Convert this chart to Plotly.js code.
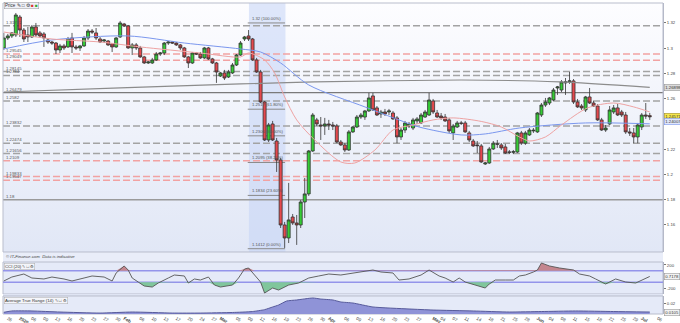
<!DOCTYPE html>
<html><head><meta charset="utf-8">
<script src="https://cdn.plot.ly/plotly-3.0.1.min.js"></script>
<style>html,body{margin:0;padding:0;background:#fff;}#chart{width:680px;height:323px;}</style>
</head><body><div id="chart"></div>
<script>
// ---------- DATA (GBP/USD daily) ----------
const openP = [1.3002,1.3081,1.3097,1.3105,1.3247,1.3144,1.3105,1.3089,1.3168,1.3121,1.3113,1.3065,1.3049,1.3041,1.2986,1.3018,1.3010,1.3081,1.3010,1.3002,1.3018,1.3081,1.3136,1.3121,1.3073,1.3057,1.3057,1.3034,1.3010,1.3089,1.3192,1.3176,1.3002,1.3026,1.3002,1.2931,1.2883,1.2883,1.2907,1.2954,1.2962,1.3041,1.3049,1.3041,1.3026,1.3002,1.2931,1.2883,1.2962,1.2954,1.2923,1.3002,1.2915,1.2883,1.2780,1.2804,1.2772,1.2804,1.2867,1.2946,1.3073,1.3097,1.3073,1.2907,1.2812,1.2574,1.2273,1.2400,1.2265,1.2115,1.1600,1.1497,1.1663,1.1616,1.1600,1.1782,1.1846,1.2186,1.2432,1.2392,1.2384,1.2400,1.2392,1.2384,1.2257,1.2234,1.2194,1.2337,1.2376,1.2455,1.2455,1.2503,1.2622,1.2527,1.2479,1.2495,1.2495,1.2487,1.2448,1.2297,1.2352,1.2384,1.2368,1.2424,1.2408,1.2455,1.2471,1.2582,1.2487,1.2463,1.2455,1.2432,1.2329,1.2376,1.2408,1.2408,1.2329,1.2265,1.2234,1.2226,1.2083,1.2091,1.2202,1.2242,1.2234,1.2218,1.2178,1.2176,1.2178,1.2329,1.2248,1.2313,1.2345,1.2337,1.2471,1.2550,1.2566,1.2590,1.2685,1.2669,1.2725,1.2733,1.2741,1.2574,1.2542,1.2511,1.2614,1.2566,1.2542,1.2432,1.2352,1.2400,1.2495,1.2527,1.2495,1.2471,1.2337,1.2329,1.2297,1.2376,1.2471,1.2466];
const highP = [1.3121,1.3113,1.3128,1.3279,1.3263,1.3160,1.3168,1.3184,1.3200,1.3136,1.3128,1.3073,1.3057,1.3049,1.3034,1.3034,1.3089,1.3121,1.3026,1.3026,1.3097,1.3152,1.3152,1.3160,1.3089,1.3073,1.3065,1.3041,1.3089,1.3216,1.3200,1.3184,1.3041,1.3041,1.3018,1.2939,1.2899,1.2923,1.2970,1.2970,1.3049,1.3057,1.3057,1.3049,1.3034,1.3010,1.2939,1.2970,1.2970,1.2970,1.3010,1.3010,1.2923,1.2891,1.2812,1.2828,1.2828,1.2883,1.2954,1.3057,1.3097,1.3144,1.3081,1.2923,1.2828,1.2582,1.2408,1.2424,1.2289,1.2131,1.1624,1.1933,1.1687,1.1679,1.1798,1.1972,1.2194,1.2487,1.2448,1.2455,1.2448,1.2432,1.2416,1.2400,1.2273,1.2249,1.2352,1.2384,1.2471,1.2487,1.2511,1.2646,1.2646,1.2542,1.2511,1.2519,1.2519,1.2503,1.2463,1.2368,1.2424,1.2416,1.2448,1.2455,1.2487,1.2511,1.2646,1.2598,1.2511,1.2487,1.2479,1.2448,1.2400,1.2424,1.2424,1.2424,1.2345,1.2281,1.2265,1.2242,1.2099,1.2218,1.2265,1.2273,1.2249,1.2242,1.2194,1.2194,1.2337,1.2345,1.2345,1.2368,1.2368,1.2495,1.2566,1.2606,1.2614,1.2685,1.2701,1.2748,1.2764,1.2812,1.2756,1.2598,1.2558,1.2622,1.2685,1.2582,1.2558,1.2448,1.2392,1.2542,1.2550,1.2558,1.2511,1.2495,1.2368,1.2368,1.2408,1.2487,1.2566,1.2487];
const lowP = [1.2986,1.3065,1.3081,1.3089,1.3089,1.3049,1.3049,1.3081,1.3089,1.3081,1.3010,1.3034,1.3026,1.2954,1.2962,1.2986,1.3002,1.2962,1.2986,1.2978,1.3010,1.3065,1.3113,1.3065,1.3041,1.3041,1.3018,1.2970,1.3002,1.3081,1.3168,1.2994,1.2946,1.2986,1.2923,1.2875,1.2875,1.2875,1.2899,1.2939,1.2946,1.3026,1.3034,1.3018,1.2986,1.2923,1.2843,1.2875,1.2946,1.2915,1.2915,1.2907,1.2875,1.2725,1.2772,1.2748,1.2764,1.2796,1.2859,1.2939,1.3057,1.3057,1.2899,1.2804,1.2566,1.2265,1.2257,1.2265,1.2020,1.1576,1.1418,1.1457,1.1600,1.1442,1.1576,1.1655,1.1830,1.2178,1.2384,1.2273,1.2313,1.2352,1.2352,1.2248,1.2226,1.2178,1.2186,1.2329,1.2368,1.2440,1.2432,1.2495,1.2503,1.2463,1.2448,1.2463,1.2471,1.2432,1.2248,1.2273,1.2329,1.2368,1.2352,1.2400,1.2400,1.2448,1.2463,1.2479,1.2448,1.2432,1.2416,1.2329,1.2273,1.2368,1.2392,1.2329,1.2257,1.2218,1.2170,1.2091,1.2075,1.2083,1.2194,1.2210,1.2194,1.2162,1.2162,1.2162,1.2170,1.2234,1.2234,1.2305,1.2329,1.2329,1.2455,1.2535,1.2550,1.2582,1.2630,1.2653,1.2630,1.2717,1.2558,1.2527,1.2511,1.2495,1.2558,1.2535,1.2424,1.2345,1.2337,1.2392,1.2479,1.2463,1.2455,1.2321,1.2305,1.2248,1.2248,1.2352,1.2440,1.2432];
const closeP = [1.3081,1.3097,1.3121,1.3263,1.3144,1.3073,1.3089,1.3168,1.3105,1.3097,1.3081,1.3049,1.3041,1.2986,1.3018,1.3002,1.3073,1.3010,1.3002,1.3018,1.3081,1.3136,1.3128,1.3081,1.3049,1.3065,1.3026,1.3010,1.3081,1.3200,1.3176,1.3002,1.3026,1.3002,1.2931,1.2883,1.2891,1.2907,1.2954,1.2962,1.3041,1.3049,1.3041,1.3026,1.3002,1.2931,1.2883,1.2962,1.2954,1.2923,1.3002,1.2915,1.2883,1.2812,1.2804,1.2764,1.2812,1.2867,1.2946,1.3041,1.3089,1.3073,1.2907,1.2812,1.2574,1.2273,1.2392,1.2273,1.2115,1.1600,1.1497,1.1640,1.1616,1.1600,1.1782,1.1846,1.2186,1.2471,1.2400,1.2384,1.2400,1.2392,1.2384,1.2257,1.2234,1.2194,1.2337,1.2376,1.2455,1.2471,1.2503,1.2606,1.2511,1.2471,1.2495,1.2479,1.2503,1.2440,1.2297,1.2352,1.2408,1.2400,1.2432,1.2440,1.2471,1.2495,1.2590,1.2495,1.2455,1.2448,1.2424,1.2345,1.2384,1.2408,1.2405,1.2337,1.2273,1.2226,1.2228,1.2099,1.2091,1.2202,1.2248,1.2240,1.2210,1.2170,1.2176,1.2180,1.2329,1.2248,1.2329,1.2352,1.2350,1.2487,1.2550,1.2574,1.2606,1.2669,1.2693,1.2733,1.2733,1.2741,1.2574,1.2535,1.2527,1.2614,1.2566,1.2542,1.2432,1.2352,1.2368,1.2511,1.2527,1.2471,1.2471,1.2337,1.2329,1.2297,1.2392,1.2471,1.2463,1.2457];
const firstBar = -1; // bar index of first candle (bar 0 = 26 Dec)

// moving averages (sampled along the bar index)
const smaBlueX = [-1, 11, 30, 44, 58, 63, 68, 75, 89, 97.5, 102.5, 113, 119, 127.5, 144, 160];
const smaBlueY = [1.2994,1.3065,1.3097,1.3041,1.2994,1.2970,1.2883,1.2709,1.2535,1.2432,1.2376,1.2313,1.2321,1.2368,1.2408,1.2401];
const smaPinkX = [-1, 11, 23, 33, 48, 58, 60, 64, 66.5, 69, 72, 76.5, 83, 86.5, 91.5, 96, 101, 106, 111, 118, 123, 127.5, 130, 134, 138, 144.5, 151, 156, 160];
const smaPinkY = [1.3128,1.3073,1.3049,1.3010,1.2962,1.2931,1.2962,1.2907,1.2804,1.2614,1.2432,1.2273,1.2099,1.2091,1.2194,1.2352,1.2392,1.2432,1.2448,1.2420,1.2376,1.2297,1.2265,1.2297,1.2392,1.2527,1.2566,1.2535,1.2495];
const sma200X = [-1, 28, 58, 76.5, 113, 137.5, 160];
const sma200Y = [1.2653,1.2685,1.2717,1.2733,1.2748,1.2733,1.2690];

// CCI (20)
const cciX = [-1,1,4,6,9,11,14,16,19,21,24,26,27,29,30,31,32.5,34,36,37.5,40,41.5,44,45,46.5,48,50,51.5,53,56,57.5,59,60,61.5,63,64,66,67.5,70,72.5,75,77.5,80,83,87.5,91,93,96,97.5,100,103,105,107.5,109,111,112.5,114,116.5,119,120,121.5,124,126,127.5,129,131,132,133,135,137.5,141,142.5,145,146.5,149,151.5,154,156.5,158,160];
const cciY = [-78,-9,43,-26,-43,-9,-43,-78,-26,9,-9,-78,61,183,113,-26,-96,-165,-183,-113,-26,26,9,-113,-43,-61,-9,-148,-183,-148,-26,130,148,26,-96,-287,-200,-235,-148,-113,-26,9,43,26,78,113,78,61,-61,-43,26,113,9,-26,-96,-26,-96,-148,-200,-130,-61,-61,-61,9,26,78,113,235,183,148,113,43,9,-43,-130,-43,-96,-113,-61,0.7178];

// Average True Range (14)
const atrX = [-1,1,6,13,23,31,41,48,56,61,64,66,67.5,69.5,72,76,78,81,83,86,91,100,106,116,125,133,141.5,151,160];
const atrY = [0.0102,0.0116,0.0116,0.0105,0.0094,0.0105,0.0094,0.0094,0.0100,0.0110,0.0130,0.0158,0.0179,0.0221,0.0232,0.0253,0.0242,0.0232,0.0211,0.0200,0.0158,0.0137,0.0126,0.0116,0.0105,0.0110,0.0116,0.0110,0.0105];

// horizontal levels
const grayLevels = [1.31772, 1.28145, 1.2784, 1.2582, 1.23832, 1.22474, 1.21656];
const grayLabels = ['1.31772','1.28145','1.2784','1.2582','1.23832','1.22474','1.21656'];
const redLevels = [1.29545, 1.29049, 1.2109, 1.19833, 1.19547];
const redLabels = ['1.29545','1.29049','1.2109','1.19833','1.19547'];
const solidLevels = [1.26479, 1.18];
const solidLabels = ['1.26479','1.18'];

// Fibonacci retracement
const fibLevels = [1.32, 1.2517, 1.2306, 1.2095, 1.1834, 1.1412];
const fibLabels = ['1.32 (100.00%)','1.2517 (61.80%)','1.2306 (50.00%)','1.2095 (38.20%)','1.1834 (23.60%)','1.1412 (0.00%)'];
const fibStartBar = 60, fibEndBar = 69;

// axis ticks
const dateTickBars = [0,3,6,9,12,15,18,21,24,27,29,33,36,39,42,45,48,51,53,57,60,63,66,69,72,75,78,80,84,87,90,93,96,99,102,106,108,111,114,117,120,123,126,129,132,135,138,141,144,147,150,153,156,158,162];
const dateTickText = ['26','<b>2020</b>','06','09','13','16','20','23','27','30','<b>Feb</b>','06','10','13','17','20','24','27','<b>Mar</b>','05','09','12','16','19','23','26','30','<b>Apr</b>','06','09','13','16','20','23','27','<b>May</b>','04','07','11','14','18','21','25','28','<b>Jun</b>','04','08','11','15','18','22','25','29','<b>Jul</b>','06'];
const priceTicks = [1.16,1.18,1.2,1.22,1.26,1.28,1.3,1.32];
const priceTickText = ['1.16','1.18','1.2','1.22','1.26','1.28','1.3','1.32'];
const cciTicks = [-200, 200];
const atrTicks = [0.02];

const lastPrice = '1.24571', lastBlue = '1.24007', last200 = '1.26898', lastCci = '0.7178', lastAtr = '0.0105';

// ---------- BUILD ----------
const bars = closeP.map((_, i) => i + firstBar);
const F = 'Liberation Sans, Arial, sans-serif';
const mainDom = [0.1994, 1], cciDom = [0.0643, 0.1672], atrDom = [0, 0.0579];

const traces = [];
traces.push({type:'scatter', mode:'lines', x:sma200X, y:sma200Y, line:{color:'#8c8c8c', width:1.2, shape:'spline', smoothing:0.6}, xaxis:'x', yaxis:'y', hoverinfo:'skip'});
traces.push({type:'scatter', mode:'lines', x:smaBlueX, y:smaBlueY, line:{color:'#7b97ee', width:1, shape:'spline', smoothing:0.8}, xaxis:'x', yaxis:'y', hoverinfo:'skip'});
traces.push({type:'scatter', mode:'lines', x:smaPinkX, y:smaPinkY, line:{color:'#eea3a3', width:1, shape:'spline', smoothing:0.8}, xaxis:'x', yaxis:'y', hoverinfo:'skip'});
traces.push({type:'candlestick', x:bars, open:openP, high:highP, low:lowP, close:closeP, xaxis:'x', yaxis:'y',
  increasing:{fillcolor:'#35cc35', line:{color:'#333333', width:0.8}},
  decreasing:{fillcolor:'#e5484d', line:{color:'#333333', width:0.8}}, whiskerwidth:0, hoverinfo:'skip'});

// CCI fills
const base100 = cciX.map(() => 100), baseM100 = cciX.map(() => -100);
traces.push({type:'scatter', mode:'lines', x:cciX, y:base100, line:{width:0}, xaxis:'x', yaxis:'y2', hoverinfo:'skip'});
traces.push({type:'scatter', mode:'lines', x:cciX, y:cciY.map(v => Math.max(v, 100)), line:{width:0}, fill:'tonexty', fillcolor:'#c4868f', xaxis:'x', yaxis:'y2', hoverinfo:'skip'});
traces.push({type:'scatter', mode:'lines', x:cciX, y:baseM100, line:{width:0}, xaxis:'x', yaxis:'y2', hoverinfo:'skip'});
traces.push({type:'scatter', mode:'lines', x:cciX, y:cciY.map(v => Math.min(v, -100)), line:{width:0}, fill:'tonexty', fillcolor:'#80c69c', xaxis:'x', yaxis:'y2', hoverinfo:'skip'});
traces.push({type:'scatter', mode:'lines', x:cciX, y:cciY, line:{color:'#555555', width:0.9}, xaxis:'x', yaxis:'y2', hoverinfo:'skip'});
// ATR
traces.push({type:'scatter', mode:'lines', x:atrX, y:atrY, line:{color:'#4c4f92', width:0.9, shape:'spline', smoothing:0.5}, fill:'tozeroy', fillcolor:'#8f93d7', xaxis:'x', yaxis:'y3', hoverinfo:'skip'});

const shapes = [];
// panel backgrounds
shapes.push({type:'rect', xref:'paper', yref:'paper', x0:0, x1:1, y0:cciDom[1], y1:mainDom[0], fillcolor:'#e9edf9', line:{width:0}, layer:'below'});
shapes.push({type:'rect', xref:'paper', yref:'paper', x0:0, x1:1, y0:cciDom[0], y1:cciDom[1], fillcolor:'#e5eaf8', line:{color:'#b9bdcc', width:1}, layer:'below'});
shapes.push({type:'rect', xref:'paper', yref:'paper', x0:0, x1:1, y0:atrDom[1], y1:cciDom[0], fillcolor:'#dfe4f3', line:{width:0}, layer:'below'});
shapes.push({type:'rect', xref:'paper', yref:'paper', x0:0, x1:1, y0:atrDom[0], y1:atrDom[1], fillcolor:'#e5eaf8', line:{color:'#b9bdcc', width:1}, layer:'below'});
// fib band
shapes.push({type:'rect', xref:'x', yref:'paper', x0:fibStartBar + 0.1, x1:fibEndBar + 0.2, y0:mainDom[0], y1:mainDom[1], fillcolor:'rgba(196,212,246,0.55)', line:{width:0}, layer:'below'});
grayLevels.forEach(v => shapes.push({type:'line', xref:'paper', yref:'y', x0:0, x1:1, y0:v, y1:v, line:{color:'#a3a3a3', width:1.5, dash:'7px,3px'}, layer:'below'}));
redLevels.forEach(v => shapes.push({type:'line', xref:'paper', yref:'y', x0:0, x1:1, y0:v, y1:v, line:{color:'#f2a2a2', width:1.5, dash:'7px,3px'}, layer:'below'}));
shapes.push({type:'line', xref:'paper', yref:'y', x0:0, x1:1, y0:solidLevels[0], y1:solidLevels[0], line:{color:'#7a7a7a', width:1.3}, layer:'below'});
shapes.push({type:'line', xref:'paper', yref:'y', x0:0, x1:1, y0:solidLevels[1], y1:solidLevels[1], line:{color:'#9a9a9a', width:1.5}, layer:'below'});
fibLevels.forEach(v => shapes.push({type:'line', xref:'x', yref:'y', x0:fibStartBar - 0.2, x1:fibEndBar + 0.1, y0:v, y1:v, line:{color:'#8a8a8a', width:1}, layer:'below'}));
// CCI +/-100 lines
[100, -100].forEach(v => shapes.push({type:'line', xref:'paper', yref:'y2', x0:0, x1:1, y0:v, y1:v, line:{color:'#9494ea', width:1.4}, layer:'below'}));
// main border
shapes.push({type:'rect', xref:'paper', yref:'paper', x0:0, x1:1, y0:mainDom[0], y1:mainDom[1], line:{color:'#b9bdcc', width:1}, layer:'above'});

const ann = [];
const lvlFont = {family:F, size:4.3, color:'#555'};
function leftLabel(v, t){ ann.push({xref:'paper', yref:'y', x:0, y:v, text:t, showarrow:false, xanchor:'left', yanchor:'bottom', xshift:1, yshift:-1, font:lvlFont}); }
grayLevels.forEach((v,i) => leftLabel(v, grayLabels[i]));
redLevels.forEach((v,i) => leftLabel(v, redLabels[i]));
solidLevels.forEach((v,i) => leftLabel(v, solidLabels[i]));
fibLevels.forEach((v,i) => ann.push({xref:'x', yref:'y', x:fibStartBar + 0.3, y:v, text:fibLabels[i], showarrow:false, xanchor:'left', yanchor:'bottom', yshift:0, font:{family:F, size:4.2, color:'#555'}}));
function rightBox(v, yref, t, bg, bc){ ann.push({xref:'paper', yref:yref, x:1, y:v, text:t, showarrow:false, xanchor:'left', yanchor:'middle', xshift:1, font:{family:F, size:4.3, color:'#333'}, bgcolor:bg, bordercolor:bc, borderwidth:0.6, borderpad:0.6}); }
rightBox(parseFloat(last200), 'y', last200, '#dcdcdc', '#999');
rightBox(parseFloat(lastPrice), 'y', lastPrice, '#f6e64c', '#a09030');
rightBox(1.2416, 'y', lastBlue, '#dfe6fb', '#7b97ee');
rightBox(parseFloat(lastCci), 'y2', lastCci, '#f2f2f2', '#999');
rightBox(0.0105, 'y3', lastAtr, '#f2f2f2', '#999');
ann.push({xref:'paper', yref:'paper', x:0, y:(cciDom[1]+mainDom[0])/2, text:'<i>\u00a9 IT-Finance.com  Data is indicative</i>', showarrow:false, xanchor:'left', yanchor:'middle', xshift:1, font:{family:F, size:4.3, color:'#444'}});
ann.push({xref:'paper', yref:'paper', x:0, y:cciDom[1], text:'CCI (20) \u270e \u25a1 \u2699', showarrow:false, xanchor:'left', yanchor:'top', xshift:1, yshift:-1, font:{family:F, size:4.3, color:'#333'}, bgcolor:'#f4f5fa', bordercolor:'#aaa', borderwidth:0.5, borderpad:0.5});
ann.push({xref:'paper', yref:'paper', x:0, y:atrDom[1], text:'Average True Range (14) \u270e \u25a1 \u2699', showarrow:false, xanchor:'left', yanchor:'top', xshift:1, yshift:-1, font:{family:F, size:4.3, color:'#333'}, bgcolor:'#f4f5fa', bordercolor:'#aaa', borderwidth:0.5, borderpad:0.5});
ann.push({xref:'paper', yref:'paper', x:0, y:1, text:'Price \u270e \u25a1 \u2699 <span style="color:#d33">\u25a0</span> <span style="color:#3a3">\u25a0</span>', showarrow:false, xanchor:'left', yanchor:'top', xshift:1, yshift:1, font:{family:F, size:4.5, color:'#333'}, bgcolor:'#eef0f7', bordercolor:'#999', borderwidth:0.5, borderpad:0.6});

const gradSvg = '<svg xmlns="http://www.w3.org/2000/svg" width="10" height="100" preserveAspectRatio="none"><defs><linearGradient id="g" x1="0" y1="0" x2="0" y2="1"><stop offset="0" stop-color="#fdfdff"/><stop offset="1" stop-color="#e1e7f6"/></linearGradient></defs><rect width="10" height="100" fill="url(#g)"/></svg>';

const axFont = {family:F, size:4.3, color:'#444'};
const layout = {
  width:680, height:323, margin:{l:3, r:17, t:3, b:9},
  paper_bgcolor:'#ffffff', plot_bgcolor:'rgba(0,0,0,0)', showlegend:false,
  boxgap:0.25, boxgroupgap:0,
  font:{family:F},
  images:[{source:'data:image/svg+xml;charset=utf-8,' + encodeURIComponent(gradSvg), xref:'paper', yref:'paper', x:0, y:1, sizex:1, sizey:mainDom[1]-mainDom[0], xanchor:'left', yanchor:'top', sizing:'stretch', layer:'below'}],
  xaxis:{domain:[0,1], range:[-1.2, 163.3], anchor:'y3', tickmode:'array', tickvals:dateTickBars, ticktext:dateTickText, tickfont:{family:F, size:4.5, color:'#444'}, ticks:'', showgrid:false, zeroline:false, showline:false, rangeslider:{visible:false}, fixedrange:true, ticklabelstandoff:0},
  yaxis:{domain:mainDom, range:[1.1386, 1.3358], side:'right', anchor:'x', tickmode:'array', tickvals:priceTicks, ticktext:priceTickText, tickfont:axFont, ticks:'outside', ticklen:2, tickcolor:'#777', showgrid:false, zeroline:false, showline:true, linecolor:'#b0b4c4', fixedrange:true},
  yaxis2:{domain:cciDom, range:[-304, 252], side:'right', anchor:'x', tickmode:'array', tickvals:cciTicks, ticktext:cciTicks.map(String), tickfont:axFont, ticks:'outside', ticklen:2, tickcolor:'#777', showgrid:false, zeroline:false, showline:true, linecolor:'#b0b4c4', fixedrange:true},
  yaxis3:{domain:atrDom, range:[0.0084, 0.0274], side:'right', anchor:'x', tickmode:'array', tickvals:atrTicks, ticktext:['0.02'], tickfont:axFont, ticks:'outside', ticklen:2, tickcolor:'#777', showgrid:false, zeroline:false, showline:true, linecolor:'#b0b4c4', fixedrange:true},
  shapes:shapes, annotations:ann
};
Plotly.newPlot('chart', traces, layout, {staticPlot:true, displayModeBar:false});
</script></body></html>
